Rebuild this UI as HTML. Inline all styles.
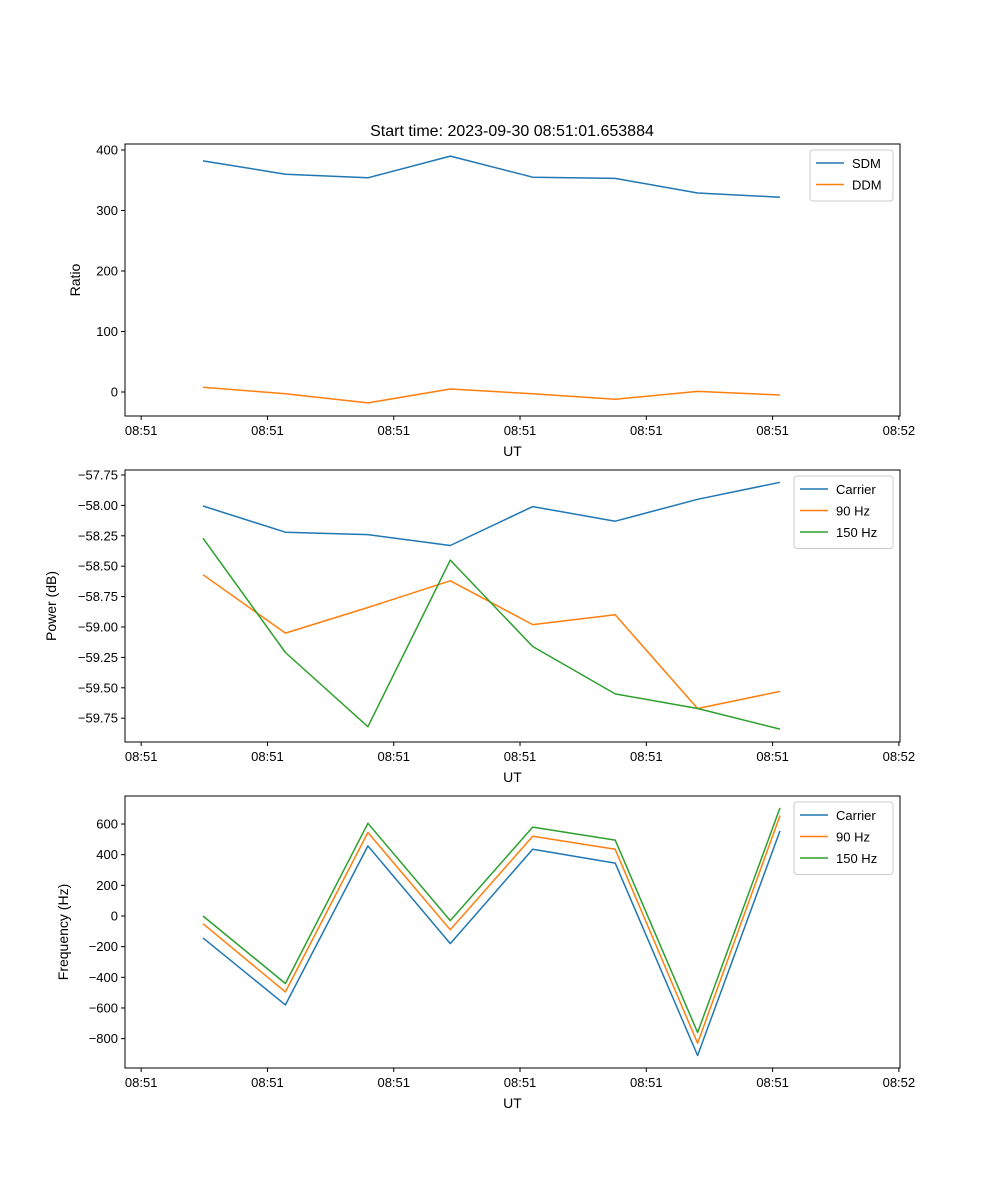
<!DOCTYPE html>
<html><head><meta charset="utf-8">
<style>
html,body{margin:0;padding:0;background:#fff;}
svg{display:block;font-family:"Liberation Sans","DejaVu Sans",sans-serif;}
</style></head>
<body>
<svg id="fig" width="1000" height="1200" viewBox="0 0 1000 1200" xmlns="http://www.w3.org/2000/svg">
<rect width="1000" height="1200" fill="#fff"/>
<text x="512" y="136" font-size="16" text-anchor="middle">Start time: 2023-09-30 08:51:01.653884</text>
</svg>
<script>
const xTickLabels = ["08:51","08:51","08:51","08:51","08:51","08:51","08:52"];
const sdm = [382, 360, 354, 390, 355, 353, 329, 322];
const ddm = [8, -3, -18, 5, -3, -12, 1, -5];
const powCarrier = [-58.005, -58.22, -58.24, -58.33, -58.01, -58.13, -57.95, -57.81];
const pow90 = [-58.57, -59.05, -58.84, -58.62, -58.98, -58.90, -59.67, -59.53];
const pow150 = [-58.27, -59.21, -59.82, -58.45, -59.16, -59.55, -59.67, -59.84];
const freqCarrier = [-143, -580, 457, -180, 435, 345, -910, 555];
const freq90 = [-50, -495, 545, -90, 520, 435, -830, 655];
const freq150 = [0, -440, 605, -30, 580, 495, -760, 705];
const ratioTicks = [0, 100, 200, 300, 400];
const powTicks = [-57.75, -58.00, -58.25, -58.50, -58.75, -59.00, -59.25, -59.50, -59.75];
const freqTicks = [-800, -600, -400, -200, 0, 200, 400, 600];

const NS = "http://www.w3.org/2000/svg";
const fig = document.getElementById('fig');
function el(tag, attrs, parent) {
  const e = document.createElementNS(NS, tag);
  for (const k in attrs) e.setAttribute(k, attrs[k]);
  (parent || fig).appendChild(e);
  return e;
}
const L = 125, R = 900;
const xs = i => 203 + i * 82.43;
const tickIdx = k => -0.75 + k * 1.532;
const C = {blue:"#1f77b4", orange:"#ff7f0e", green:"#2ca02c"};

function panel(name, top, bottom, ys, yticks, fmt, ylabel, lx, series, legW) {
  const g = el('g', {});
  
  
  xTickLabels.forEach((t, k) => {
    const x = xs(tickIdx(k));
    el('line', {x1:x, x2:x, y1:bottom, y2:bottom+4, stroke:"#000", "stroke-width":1}, g);
    const tx = el('text', {x:x, y:bottom+19, "font-size":13, "text-anchor":"middle"}, g);
    tx.textContent = t;
    
    
  });
  const xl = el('text', {x:(L+R)/2, y:bottom+40, "font-size":14, "text-anchor":"middle"}, g);
  xl.textContent = "UT";
  
  
  yticks.forEach(v => {
    const y = ys(v);
    el('line', {x1:L-4, x2:L, y1:y, y2:y, stroke:"#000"}, g);
    const ty = el('text', {x:L-7, y:y+4.5, "font-size":13, "text-anchor":"end"}, g);
    ty.textContent = fmt(v);
    
    
  });
  const yl = el('text', {x:lx, y:(top+bottom)/2, "font-size":14, "text-anchor":"middle", transform:`rotate(-90 ${lx} ${(top+bottom)/2})`}, g);
  yl.textContent = ylabel;
  
  
  series.forEach(s => {
    const pts = s.data.map((v, i) => xs(i).toFixed(1) + "," + ys(v).toFixed(1)).join(" ");
    const p = el('polyline', {points:pts, fill:"none", stroke:s.color, "stroke-width":1.5, "stroke-linejoin":"round"}, g);
    
    
  });
  el('rect', {x:L, y:top, width:R-L, height:bottom-top, fill:"none", stroke:"#000", "stroke-width":1}, g);
  const lgX = 893 - legW, lgY = top + 6, lgH = 8 + series.length * 21.5;
  const lg = el('g', {}, g);
  
  
  el('rect', {x:lgX, y:lgY, width:legW, height:lgH, rx:3, fill:"#fff", "fill-opacity":0.8, stroke:"#ccc"}, lg);
  series.forEach((s, i) => {
    const yy = lgY + 13 + i * 21.5;
    el('line', {x1:lgX+6, x2:lgX+34, y1:yy, y2:yy, stroke:s.color, "stroke-width":1.5}, lg);
    const t = el('text', {x:lgX+42, y:yy+5, "font-size":13}, lg);
    t.textContent = s.label;
    
    
  });
}

panel('ratio-panel', 144, 416, v => 392 - v * 0.605, ratioTicks, v => String(v).replace('-', '\u2212'), "Ratio", 80,
  [{id:'sdm', data:sdm, color:C.blue, label:"SDM"}, {id:'ddm', data:ddm, color:C.orange, label:"DDM"}], 83);
panel('power-panel', 470, 742, v => 475 + (-57.75 - v) * 121.6, powTicks, v => v.toFixed(2).replace('-', '\u2212'), "Power (dB)", 56,
  [{id:'power-carrier', data:powCarrier, color:C.blue, label:"Carrier"},
   {id:'power-90hz', data:pow90, color:C.orange, label:"90 Hz"},
   {id:'power-150hz', data:pow150, color:C.green, label:"150 Hz"}], 99);
panel('frequency-panel', 796, 1068, v => 916 - v * 0.1533, freqTicks, v => String(v).replace('-', '\u2212'), "Frequency (Hz)", 68,
  [{id:'freq-carrier', data:freqCarrier, color:C.blue, label:"Carrier"},
   {id:'freq-90hz', data:freq90, color:C.orange, label:"90 Hz"},
   {id:'freq-150hz', data:freq150, color:C.green, label:"150 Hz"}], 99);
</script>
</body></html>
